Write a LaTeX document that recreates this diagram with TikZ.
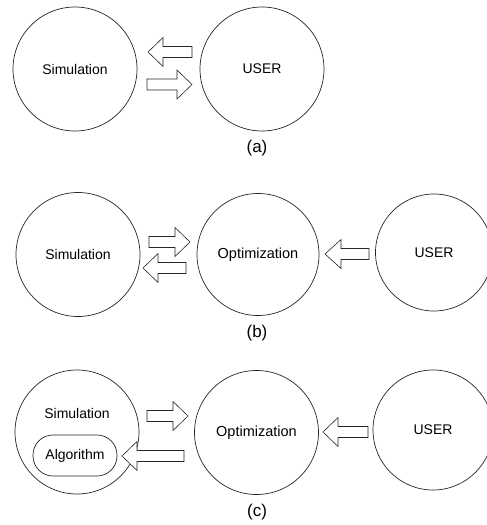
\documentclass[tikz,border=0pt]{standalone}
\usepackage{fontspec}
\setmainfont{Liberation Sans}
\newcommand{\blockar}[5]{% name, tail x, tip x, y, head base x
  \draw[blk] (#2,#4-5.5) -- (#5,#4-5.5) -- (#5,#4-14.5) -- (#3,#4) coordinate (#1)
    -- (#5,#4+14.5) -- (#5,#4+5.5) -- (#2,#4+5.5) -- cycle;}
\begin{document}
\begin{tikzpicture}[x=1pt,y=-1pt,
  ball/.style={circle,draw=black!85,line width=0.7pt,inner sep=0pt,font=\fontsize{14}{16}\selectfont},
  lbl/.style={font=\fontsize{17}{20}\selectfont,inner sep=0pt},
  txt/.style={font=\fontsize{14}{16}\selectfont,inner sep=0pt},
  optfont/.style={font=\fontsize{14.5}{17}\selectfont},
  blk/.style={draw=black!85,line width=0.6pt,fill=white,line join=miter},
  algo/.style={draw=black!85,line width=0.7pt,rounded corners=20pt,minimum width=84pt,minimum height=41pt,
    inner sep=0pt,font=\fontsize{14}{16}\selectfont}]
\useasboundingbox (0,0) rectangle (487,525);
% (a)
\node[ball,minimum size=124pt] (simA) at (75,69) {Simulation};
\node[ball,minimum size=124pt] (userA) at (262,69) {USER};
\blockar{aA1}{192}{148}{52}{163}
\blockar{aA2}{147}{192}{84.5}{177}
\node[lbl] (labA) at (257,148) {(a)};
% (b)
\node[ball,minimum size=124pt] (simB) at (78,254.5) {Simulation};
\node[ball,optfont,minimum size=122pt] (optB) at (258,254.5) {Optimization};
\node[ball,minimum size=117pt] (userB) at (434,252.5) {USER};
\blockar{aB1}{149}{190}{242}{175}
\blockar{aB2}{186}{143}{268}{158}
\blockar{aB3}{369}{325}{254}{341}
\node[lbl] (labB) at (257,333) {(b)};
% (c)
\node[ball,minimum size=124pt] (simC) at (77,432) {};
\node[txt] (simCt) at (77,413) {Simulation};
\node[algo] (algC) at (75,455.5) {Algorithm};
\node[ball,optfont,minimum size=124pt] (optC) at (256.5,432.5) {Optimization};
\node[ball,minimum size=120pt] (userC) at (433,430) {USER};
\blockar{aC1}{147}{188}{416}{173}
\blockar{aC2}{184}{122}{456}{137}
\blockar{aC3}{368}{323}{432}{338}
\node[lbl] (labC) at (257,512) {(c)};
\end{tikzpicture}
\end{document}
